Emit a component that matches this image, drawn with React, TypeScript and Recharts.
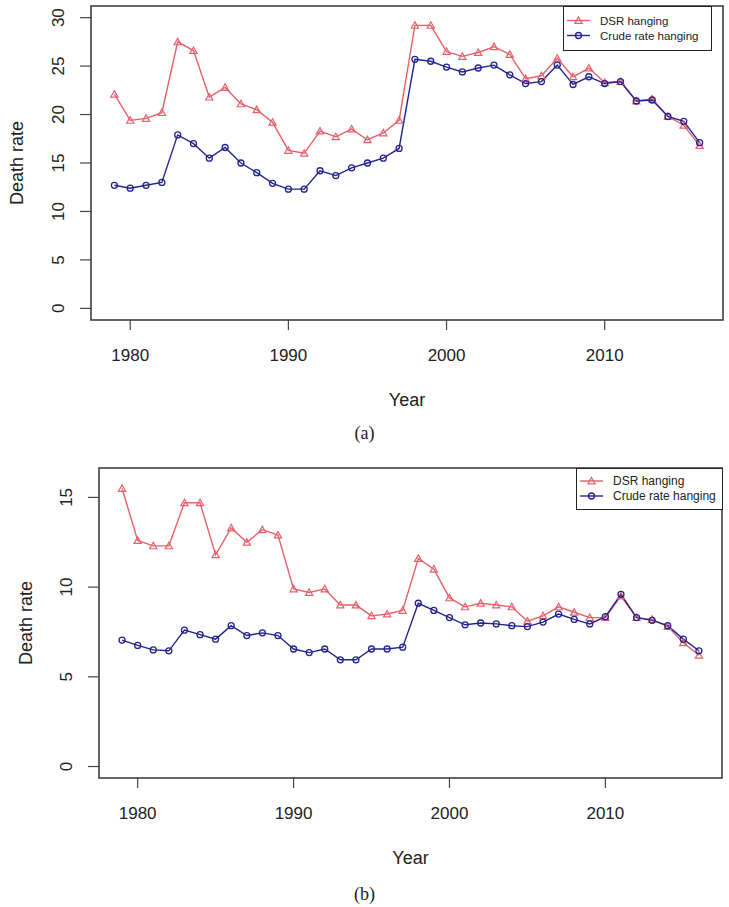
import React from 'react';
import { LineChart, Line, XAxis, YAxis, ReferenceArea } from 'recharts';

const years = [
  1979, 1980, 1981, 1982, 1983, 1984, 1985, 1986, 1987, 1988, 1989, 1990, 1991,
  1992, 1993, 1994, 1995, 1996, 1997, 1998, 1999, 2000, 2001, 2002, 2003, 2004,
  2005, 2006, 2007, 2008, 2009, 2010, 2011, 2012, 2013, 2014, 2015, 2016,
];

// panel (a)
const dsrA = [
  22.1, 19.4, 19.6, 20.2, 27.5, 26.6, 21.8, 22.8, 21.1, 20.5, 19.2, 16.3, 16.0,
  18.3, 17.7, 18.5, 17.4, 18.1, 19.4, 29.2, 29.2, 26.5, 26.0, 26.4, 27.0, 26.2,
  23.7, 24.0, 25.8, 23.9, 24.8, 23.3, 23.4, 21.4, 21.6, 19.8, 18.9, 16.8,
];
const crudeA = [
  12.7, 12.4, 12.7, 13.0, 17.9, 17.0, 15.5, 16.6, 15.0, 14.0, 12.9, 12.3, 12.3,
  14.2, 13.7, 14.5, 15.0, 15.5, 16.5, 25.7, 25.5, 24.9, 24.4, 24.8, 25.1, 24.1,
  23.2, 23.4, 25.1, 23.1, 23.9, 23.2, 23.4, 21.4, 21.5, 19.8, 19.3, 17.1,
];

// panel (b)
const dsrB = [
  15.5, 12.6, 12.3, 12.3, 14.7, 14.7, 11.8, 13.3, 12.5, 13.2, 12.9, 9.9, 9.7,
  9.9, 9.0, 9.0, 8.4, 8.5, 8.7, 11.6, 11.0, 9.4, 8.9, 9.1, 9.0, 8.9,
  8.1, 8.4, 8.9, 8.6, 8.3, 8.3, 9.5, 8.3, 8.2, 7.8, 6.9, 6.2,
];
const crudeB = [
  7.05, 6.75, 6.5, 6.45, 7.6, 7.35, 7.1, 7.85, 7.3, 7.45, 7.3, 6.55, 6.35,
  6.55, 5.95, 5.95, 6.55, 6.55, 6.65, 9.1, 8.7, 8.3, 7.9, 8.0, 7.95, 7.85,
  7.8, 8.05, 8.5, 8.2, 7.95, 8.35, 9.6, 8.3, 8.15, 7.85, 7.1, 6.45,
];

const xTicks = [1980, 1990, 2000, 2010];
const yTicksA = [0, 5, 10, 15, 20, 25, 30];
const yTicksB = [0, 5, 10, 15];
const seriesNames = ['DSR hanging', 'Crude rate hanging'];

const RED = '#e5606a';
const BLUE = '#23238f';
const INK = '#222';
const SANS = '"Liberation Sans", Arial, Helvetica, sans-serif';
const SERIF = '"Liberation Serif", "Times New Roman", serif';
const X_DOMAIN: [number, number] = [1977.52, 2017.48];

function TriangleDot(props: any) {
  const { cx, cy } = props;
  if (cx == null || cy == null) return null;
  const s = 3.6;
  return (
    <polygon
      points={`${cx},${cy - s} ${cx - s},${cy + s * 0.8} ${cx + s},${cy + s * 0.8}`}
      fill="none"
      stroke={RED}
      strokeWidth={1.2}
    />
  );
}

function CircleDot(props: any) {
  const { cx, cy } = props;
  if (cx == null || cy == null) return null;
  return <circle cx={cx} cy={cy} r={3} fill="none" stroke={BLUE} strokeWidth={1.3} />;
}

function LegendBox({ left, top, width, height, fontSize }: any) {
  return (
    <div
      style={{
        position: 'absolute',
        left,
        top,
        width,
        height,
        boxSizing: 'border-box',
        border: '1.5px solid #222',
        background: '#fff',
        fontFamily: SANS,
        fontSize,
        color: INK,
      }}
    >
      <svg width={width - 3} height={height - 3} style={{ display: 'block' }}>
        {seriesNames.map((name, i) => {
          const y = (height - 3) / 2 + (i === 0 ? -7.5 : 7.5);
          const color = i === 0 ? RED : BLUE;
          return (
            <g key={name}>
              <line x1={3} x2={26} y1={y} y2={y} stroke={color} strokeWidth={1.4} />
              {i === 0 ? (
                <TriangleDot cx={14.5} cy={y} />
              ) : (
                <CircleDot cx={14.5} cy={y} />
              )}
              <text x={36} y={y} dy="0.35em" fontSize={fontSize} fill={INK}>
                {name}
              </text>
            </g>
          );
        })}
      </svg>
    </div>
  );
}

function Panel(props: any) {
  const {
    top, height, dsr, crude, yDomain, yTicks, margin, yAxisWidth,
    yLabelX, titleX, caption, captionY, legend,
  } = props;
  const rows = years.map((year, i) => ({ year, dsr: dsr[i], crude: crude[i] }));
  const plotTop = margin.top;
  const plotBottom = height - margin.bottom - 90;

  return (
    <div style={{ position: 'absolute', left: 0, top, width: 729, height }}>
      <LineChart width={729} height={height} data={rows} margin={margin}>
        <ReferenceArea
          x1={X_DOMAIN[0]}
          x2={X_DOMAIN[1]}
          y1={yDomain[0]}
          y2={yDomain[1]}
          fill="none"
          stroke="#333"
          strokeWidth={1.5}
          ifOverflow="visible"
        />
        <XAxis
          dataKey="year"
          type="number"
          domain={X_DOMAIN}
          allowDataOverflow
          ticks={xTicks}
          interval={0}
          axisLine={false}
          tickLine={{ stroke: '#444', strokeWidth: 1.2 }}
          tickSize={10}
          tickMargin={19}
          height={90}
          tick={{ fontSize: 17, fill: INK, fontFamily: SANS }}
          label={{
            content: ({ viewBox }: any) => (
              <text
                x={viewBox.x + viewBox.width / 2}
                y={viewBox.y + 80}
                dy="0.35em"
                textAnchor="middle"
                fontSize={18}
                fontFamily={SANS}
                fill={INK}
              >
                Year
              </text>
            ),
          }}
        />
        <YAxis
          type="number"
          domain={yDomain}
          allowDataOverflow
          ticks={yTicks}
          interval={0}
          width={yAxisWidth}
          axisLine={false}
          tickLine={{ stroke: '#444', strokeWidth: 1.2 }}
          tickSize={11}
          tick={(t: any) => (
            <text
              transform={`translate(${yAxisWidth - 33},${t.y}) rotate(-90)`}
              textAnchor="middle"
              dy="0.35em"
              fontSize={17}
              fontFamily={SANS}
              fill={INK}
            >
              {t.payload.value}
            </text>
          )}
          label={{
            content: () => (
              <text
                transform={`translate(${titleX},${(plotTop + plotBottom) / 2}) rotate(-90)`}
                textAnchor="middle"
                dy="0.35em"
                fontSize={18}
                fontFamily={SANS}
                fill={INK}
              >
                Death rate
              </text>
            ),
          }}
        />
        <Line
          dataKey="dsr"
          name={seriesNames[0]}
          type="linear"
          stroke={RED}
          strokeWidth={1.4}
          dot={<TriangleDot />}
          activeDot={false}
          isAnimationActive={false}
        />
        <Line
          dataKey="crude"
          name={seriesNames[1]}
          type="linear"
          stroke={BLUE}
          strokeWidth={1.4}
          dot={<CircleDot />}
          activeDot={false}
          isAnimationActive={false}
        />
      </LineChart>
      <LegendBox {...legend} />
      <div
        style={{
          position: 'absolute',
          left: 0,
          width: 729,
          top: captionY - 11,
          height: 22,
          lineHeight: '22px',
          textAlign: 'center',
          paddingLeft: yLabelX,
          boxSizing: 'border-box',
          fontFamily: SERIF,
          fontSize: 18,
          color: INK,
        }}
      >
        {caption}
      </div>
    </div>
  );
}

export default function App() {
  return (
    <div
      style={{
        position: 'absolute',
        left: 0,
        top: 0,
        width: 729,
        height: 907,
        background: '#fff',
        overflow: 'hidden',
      }}
    >
      <Panel
        top={0}
        height={440}
        dsr={dsrA}
        crude={crudeA}
        yDomain={[-1.2, 31.2]}
        yTicks={yTicksA}
        margin={{ top: 6, right: 6, bottom: 30, left: 0 }}
        yAxisWidth={91}
        titleX={17}
        yLabelX={0}
        caption="(a)"
        captionY={433}
        legend={{ left: 563, top: 6, width: 149, height: 45, fontSize: 11.5 }}
      />
      <Panel
        top={440}
        height={467}
        dsr={dsrB}
        crude={crudeB}
        yDomain={[-0.64, 16.64]}
        yTicks={yTicksB}
        margin={{ top: 28, right: 7, bottom: 39, left: 0 }}
        yAxisWidth={99}
        titleX={26}
        yLabelX={0}
        caption="(b)"
        captionY={454}
        legend={{ left: 576, top: 28, width: 147, height: 42, fontSize: 12 }}
      />
    </div>
  );
}
